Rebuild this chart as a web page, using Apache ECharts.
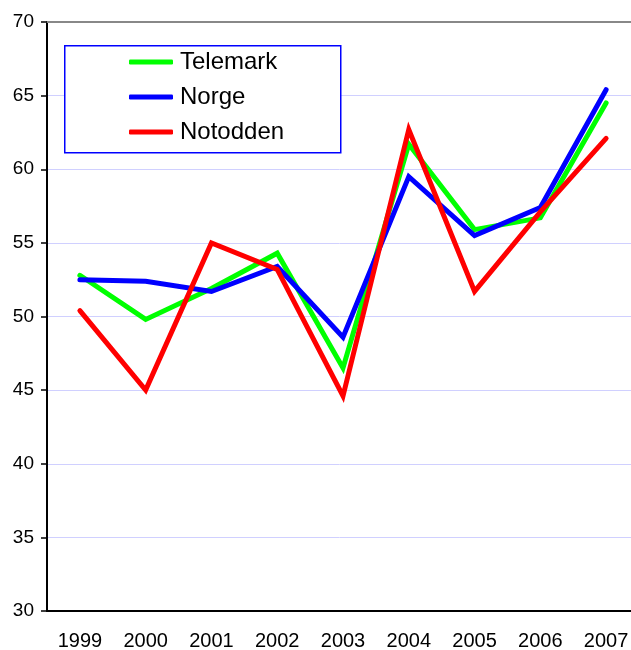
<!DOCTYPE html>
<html>
<head>
<meta charset="utf-8">
<script src="https://cdn.jsdelivr.net/npm/echarts@6/dist/echarts.min.js"></script>
<style>
    html, body { margin: 0; padding: 0; background: #fff; overflow: hidden; }
    #chart { width: 631px; height: 650px; }
</style>
</head>
<body>
<div id="chart"></div>
<script>
// data
var years = ["1999", "2000", "2001", "2002", "2003", "2004", "2005", "2006", "2007"]
var telemark = [52.8, 49.8, 51.9, 54.3, 46.5, 61.7, 55.9, 56.7, 64.5]
var norge = [52.5, 52.4, 51.7, 53.4, 48.6, 59.5, 55.5, 57.4, 65.4]
var notodden = [50.4, 45.0, 55.0, 53.2, 44.6, 62.7, 51.7, 57.1, 62.1]

var font = "'Liberation Sans', Arial, sans-serif"

function lineSeries(name, data, color) {
    return {
        name: name,
        type: "line",
        data: data,
        symbol: "none",
        itemStyle: { color: color },
        lineStyle: { color: color, width: 5, join: "miter", cap: "round" },
        emphasis: { disabled: true }
    }
}

var chart = echarts.init(document.getElementById("chart"))
var option = {
    animation: false,
    backgroundColor: "#fff",
    textStyle: { fontFamily: font },
    // plot runs past the right edge of the picture
    grid: {
        left: 47,
        top: 22,
        width: 592,
        height: 589,
        outerBoundsMode: "none",
        containLabel: false
    },
    // legend box drawn by hand
    graphic: [
        {
            type: "rect",
            left: 64,
            top: 45,
            shape: { width: 276, height: 107 },
            style: { fill: "#fff", stroke: "#0000ff", lineWidth: 1.5 },
            z: 5
        }
    ],
    legend: {
        orient: "vertical",
        left: 129,
        top: 50,
        padding: 0,
        itemGap: 11,
        itemWidth: 44,
        itemHeight: 5,
        icon: "roundRect",
        z: 10,
        textStyle: { fontSize: 24, color: "#000", fontFamily: font, padding: [0, 0, 0, 2] },
        data: ["Telemark", "Norge", "Notodden"]
    },
    xAxis: [
        {
            type: "category",
            data: years,
            boundaryGap: true,
            axisLine: { lineStyle: { color: "#000", width: 2 } },
            axisTick: { length: 7, lineStyle: { color: "#000", width: 1.5 } },
            axisLabel: { fontSize: 20, color: "#000", margin: 20, fontFamily: font }
        },
        {
            // grey frame line along the top
            type: "category",
            data: years,
            position: "top",
            axisLine: { lineStyle: { color: "#888888", width: 2 } },
            axisTick: { show: false },
            axisLabel: { show: false }
        }
    ],
    yAxis: {
        type: "value",
        min: 30,
        max: 70,
        interval: 5,
        axisLine: { show: true, lineStyle: { color: "#000", width: 2 } },
        axisTick: { show: true, length: 6, lineStyle: { color: "#000", width: 1.5 } },
        axisLabel: { fontSize: 19, color: "#000", margin: 13, fontFamily: font },
        splitLine: { lineStyle: { color: "#d0d0ff", width: 1 } }
    },
    series: [
        lineSeries("Telemark", telemark, "#00ff00"),
        lineSeries("Norge", norge, "#0000ff"),
        lineSeries("Notodden", notodden, "#ff0000")
    ]
}
chart.setOption(option)
</script>
</body>
</html>
